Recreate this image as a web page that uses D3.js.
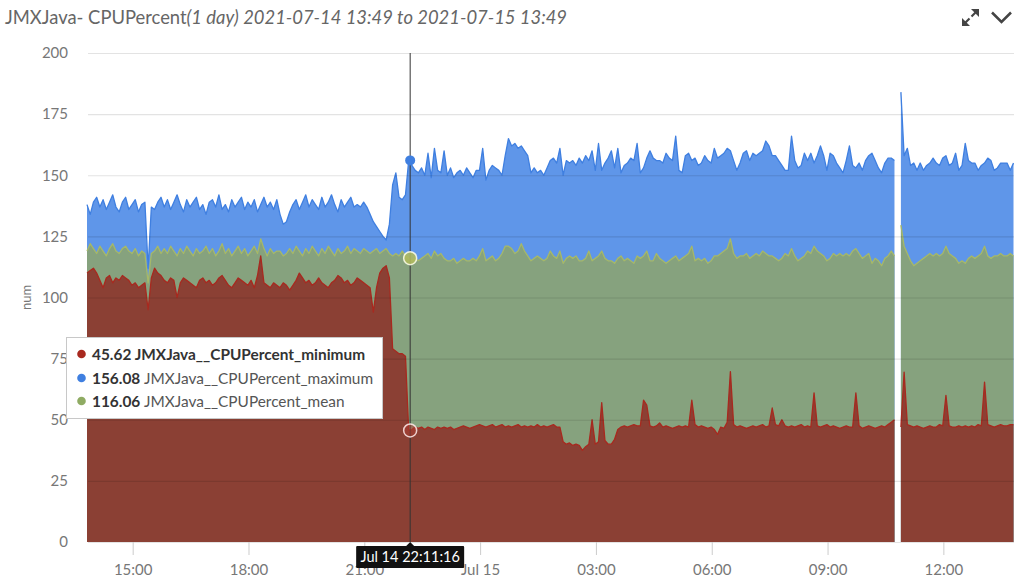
<!DOCTYPE html>
<html><head><meta charset="utf-8">
<script src="https://cdn.jsdelivr.net/npm/d3@7"></script>
<style>body{margin:0;background:#fff;} svg{display:block;font-family:Lato,"Open Sans",sans-serif;}</style>
</head><body><svg id="chart" width="1024" height="582"></svg>
<script>
// ---- data ----
const startTime = new Date(2021, 6, 14, 13, 49, 0);
const endTime = new Date(2021, 6, 15, 13, 49, 0);
const stepMinutes = 5;

const maxValues = [
138,134,139,141,137,140,136,139,142,137,135,139,
141,136,138,140,135,138,139,112,137,136,139,141,
137,140,136,139,142,138,135,140,137,139,141,136,
138,134,139,140,137,142,136,138,135,140,137,139,
141,136,139,137,140,135,138,141,137,139,136,140,
134,130,131,135,138,140,136,139,142,137,140,138,
136,141,137,139,142,138,135,140,137,139,141,137,
138,137,139,137,134,131,129,127,125,123.5,130,146,
151,141,140,142,156,154,152,151,153,150,159,149,
161,152,151,160,150,153,149,151,152,150,153,151,
149,152,152,161,148,152,154,153,152,150,158,165,
162,163,161,162,160,158,151,153,151,152,150,153,
156,157,155,161,150,156,155,156,154,157,155,158,
156,160,152,163,152,155,157,160,153,161,151,154,
155,157,156,163,151,153,157,160,157,156,156,155,
159,157,156,166,152,151,158,159,156,157,154,155,
158,156,155,161,157,158,159,161,160,156,152,155,
159,160,156,159,158,159,160,164,162,158,158,156,
154,152,152,166,156,153,154,159,156,159,155,158,
162,158,152,159,158,155,153,151,156,162,154,153,
155,152,156,158,159,156,153,151,155,157,157,156,
null,184,158,161,154,155,152,155,152,154,155,157,
155,154,157,158,154,155,159,152,154,163,156,155,
155,152,154,155,157,156,152,153,155,155,155,152,
155];

const meanValues = [
119,122,120,118,121,119,117,120,122,119,118,120,
121,119,118,120,117,119,118,106,118,119,121,118,
120,118,121,119,117,120,118,121,119,117,120,118,
119,121,118,120,117,119,122,118,120,117,119,121,
118,120,117,119,121,118,124,120,117,120,118,119,
119,117,118,120,118,121,119,117,120,118,121,119,
117,120,118,121,119,117,120,118,119,121,118,120,
119,118,120,119,118,119,120,118,119,120,118,117,
118,117,119,117,116.06,115,116,115,116,117,118,116,
119,117,118,116,115,115,116,114,115,116,115,115,
116,115,117,120,115,116,117,115,116,118,121,121,
120,118,119,122,119,117,115,116,117,116,115,116,
119,117,116,119,114,116,117,116,117,115,115,116,
119,115,116,117,119,116,115,115,114,116,117,115,
116,115,114,117,116,117,119,115,115,118,116,115,
114,115,116,117,115,116,117,118,121,115,116,115,
116,114,115,117,117,118,119,120,124,118,116,117,
117,118,116,117,118,117,119,118,117,117,116,115,
116,118,117,120,117,115,116,117,119,118,121,119,
118,117,115,116,118,117,118,117,118,117,119,120,
118,116,117,118,114,116,115,113,116,117,119,117,
null,129.6,121,118,115,113,114,115,116,117,118,117,
118,117,118,121,118,117,116,114,115,114,116,117,
116,117,118,121,117,116,117,117,118,117,117,118,
117];

const minValues = [
110,111,112,110,107,104,108,109,106,108,107,109,
108,107,105,106,104,105,106,95,108,112,110,109,
107,106,108,107,100,106,108,107,106,105,104,107,
108,106,107,105,106,108,109,107,105,104,106,108,
107,106,105,107,104,109,117,106,105,104,106,105,
104,106,105,103,105,107,110,108,106,107,105,106,
108,106,105,104,106,107,109,108,106,107,105,106,
108,107,106,105,104,94,104,110,112,113,108,79,
78,77,77,76,45.62,46,47,46.5,47,46,47,46.5,
46,47,46.5,47,46.5,47,46,46.5,47,47.5,47,46.5,
47,47.5,48,47.5,47,47.5,48,47,47.5,48,47,47.5,
47,47.5,48,47,47.5,47,47.5,47,48,47,47.5,47,
47.5,48,47,47,41,40,40.5,39.5,40,39.5,37.5,39,
40,50,40,41,57,41.5,40,40,42,46,47,47.5,
47,47.5,48,47.5,47.5,58,56,47.5,47,47.5,48.7,47,
47.5,47,46.5,47,47.5,47,47.5,47,58,48,47,47.5,
47,46.5,47,46,44,47,46.5,49,69.7,48,47,47.5,
47,46.5,47,47.5,47,47.5,48,47,47.5,54.8,48,47.5,
50,47.5,47,47.5,47,47.5,48,47,47.5,47,61,47.5,
47,47.5,48,47,47.5,47,46.5,47,47.5,47,47,61,
47.5,46.5,47,47.5,47,46.5,47,47.5,47,48,49,50,
null,47,69.5,48,47.5,47,47.5,47,46.5,47,47.5,47,
47,48,47.5,60,47.5,47,47,47.5,47,47.5,47,47.5,
47,48,47.5,65.4,48,47.5,47,47.5,48,47.5,47.5,48,
48];

const yTicks = [0, 25, 50, 75, 100, 125, 150, 175, 200];
const xTickTimes = [
  new Date(2021,6,14,15,0), new Date(2021,6,14,18,0), new Date(2021,6,14,21,0),
  new Date(2021,6,15,0,0), new Date(2021,6,15,3,0), new Date(2021,6,15,6,0),
  new Date(2021,6,15,9,0), new Date(2021,6,15,12,0)];
const xTickLabels = ["15:00","18:00","21:00","Jul 15","03:00","06:00","09:00","12:00"];

const seriesNames = ["JMXJava__CPUPercent_minimum","JMXJava__CPUPercent_maximum","JMXJava__CPUPercent_mean"];
const hoverTime = new Date(2021, 6, 14, 22, 11, 16);
const hoverLabel = "Jul 14 22:11:16";
const hoverValues = [45.62, 156.08, 116.06];

const titleMain = "JMXJava- CPUPercent";
const titleItalic = "(1 day) 2021-07-14 13:49 to 2021-07-15 13:49";
const yAxisTitle = "num";

// ---- layout ----
const svg = d3.select("#chart");
const L = 88, R = 1014, T = 53, B = 542;
const x = d3.scaleTime().domain([startTime, endTime]).range([L - 1, R - 0.5]);
const y = d3.scaleLinear().domain([0, 200]).range([B, T]);

const timeAt = i => new Date(startTime.getTime() + i * stepMinutes * 60000);
const toPts = arr => arr.map((v, i) => ({t: timeAt(i), v}));

const series = [
  {vals: maxValues, fill: "#5f96e9", stroke: "#3f7fe0"},
  {vals: meanValues, fill: "#86a27e", stroke: "#a6b868"},
  {vals: minValues, fill: "#8b4034", stroke: "#a8291f"}
];

const area = d3.area().defined(d => d.v != null)
  .x(d => x(d.t)).y0(y(0)).y1(d => y(d.v));
const line = d3.line().defined(d => d.v != null)
  .x(d => x(d.t)).y(d => y(d.v));

const plot = svg.append("g");
series.forEach(s => {
  plot.append("path").datum(toPts(s.vals)).attr("d", area).attr("fill", s.fill);
});
series.forEach(s => {
  plot.append("path").datum(toPts(s.vals)).attr("d", line)
    .attr("fill", "none").attr("stroke", s.stroke).attr("stroke-width", 1.3)
    .attr("stroke-linejoin", "round");
});

// gridlines on top
const grid = svg.append("g").attr("transform", `translate(${L},0)`)
  .call(d3.axisLeft(y).tickValues(yTicks).tickSize(-(R - L)).tickFormat(""));
grid.select(".domain").remove();
grid.selectAll("line").attr("stroke", "rgba(0,0,0,0.11)").attr("stroke-width", 1.2);

// y axis labels
const yAx = svg.append("g").attr("transform", `translate(${L},0)`)
  .call(d3.axisLeft(y).tickValues(yTicks).tickSize(0).tickPadding(20));
yAx.select(".domain").remove();
yAx.selectAll("text").attr("fill", "#777").style("font-size", "15px")
  .style("font-family", "Lato, sans-serif");

svg.append("text").attr("transform", `translate(31,${y(100)}) rotate(-90)`)
  .attr("text-anchor", "middle").attr("fill", "#777").style("font-size", "13px")
  .text(yAxisTitle);

// x axis
const xAx = svg.append("g").attr("transform", `translate(0,${B})`)
  .call(d3.axisBottom(x).tickValues(xTickTimes)
    .tickFormat((d, i) => xTickLabels[i]).tickSize(13).tickPadding(9));
xAx.select(".domain").remove();
xAx.selectAll("line").attr("stroke", "#ccc");
xAx.selectAll("text").attr("fill", "#777").style("font-size", "15px")
  .style("font-family", "Lato, sans-serif");

// crosshair
const hx = x(hoverTime);
svg.append("line").attr("x1", hx).attr("x2", hx).attr("y1", T).attr("y2", B)
  .attr("stroke", "#333").attr("stroke-width", 1);

// markers
svg.append("circle").attr("cx", hx).attr("cy", y(hoverValues[0])).attr("r", 6.5)
  .attr("fill", "rgba(170,60,50,0.55)").attr("stroke", "rgba(255,235,235,0.85)").attr("stroke-width", 1.5);
svg.append("circle").attr("cx", hx).attr("cy", y(hoverValues[2])).attr("r", 6.5)
  .attr("fill", "rgba(175,185,95,0.9)").attr("stroke", "rgba(255,255,235,0.85)").attr("stroke-width", 1.5);
svg.append("circle").attr("cx", hx).attr("cy", y(hoverValues[1])).attr("r", 5)
  .attr("fill", "#3f7fe0");

// hover time tooltip
const tt = svg.append("g");
tt.append("path").attr("d", `M${hx - 5},${B + 5} L${hx},${B} L${hx + 5},${B + 5} Z`).attr("fill", "#111");
tt.append("rect").attr("x", hx - 54).attr("y", B + 4).attr("width", 108).attr("height", 22)
  .attr("rx", 1).attr("fill", "#111");
tt.append("text").attr("x", hx).attr("y", B + 20).attr("text-anchor", "middle")
  .attr("fill", "#fff").style("font-size", "14.5px").text(hoverLabel);

// legend box
const lg = svg.append("g");
lg.append("rect").attr("x", 66.5).attr("y", 337.5).attr("width", 316).attr("height", 81)
  .attr("fill", "#fff").attr("stroke", "#c8c8c8");
const legendColors = ["#a8291f", "#3f7fe0", "#8fab63"];
const rowY = [354, 378, 401];
seriesNames.forEach((name, i) => {
  lg.append("circle").attr("cx", 81.5).attr("cy", rowY[i]).attr("r", 4.3).attr("fill", legendColors[i]);
  const t = lg.append("text").attr("x", 92).attr("y", rowY[i] + 5.5).style("font-size", "15.4px").attr("fill", "#333");
  t.append("tspan").attr("font-weight", "bold").text(hoverValues[i].toFixed(2) + " ");
  t.append("tspan").attr("font-weight", i === 0 ? "bold" : "normal")
    .attr("fill", i === 0 ? "#333" : "#555").text(name);
});

// title
const title = svg.append("text").attr("x", 5).attr("y", 24).attr("fill", "#666").style("font-size", "18.4px");
title.append("tspan").text(titleMain);
title.append("tspan").style("font-style", "italic").text(titleItalic);

// icons
const ic = svg.append("g").attr("fill", "#444").attr("stroke", "#444");
ic.append("path").attr("d", "M971,9 L979,9 L979,17 Z").attr("stroke", "none");
ic.append("line").attr("x1", 976).attr("y1", 12).attr("x2", 971.5).attr("y2", 16.5).attr("stroke-width", 2.2);
ic.append("path").attr("d", "M962,18 L962,26 L970,26 Z").attr("stroke", "none");
ic.append("line").attr("x1", 965).attr("y1", 23).attr("x2", 969.5).attr("y2", 18.5).attr("stroke-width", 2.2);
ic.append("polyline").attr("points", "992,12.5 1001.5,22 1011,12.5").attr("fill", "none").attr("stroke-width", 2.5);
</script></body></html>
